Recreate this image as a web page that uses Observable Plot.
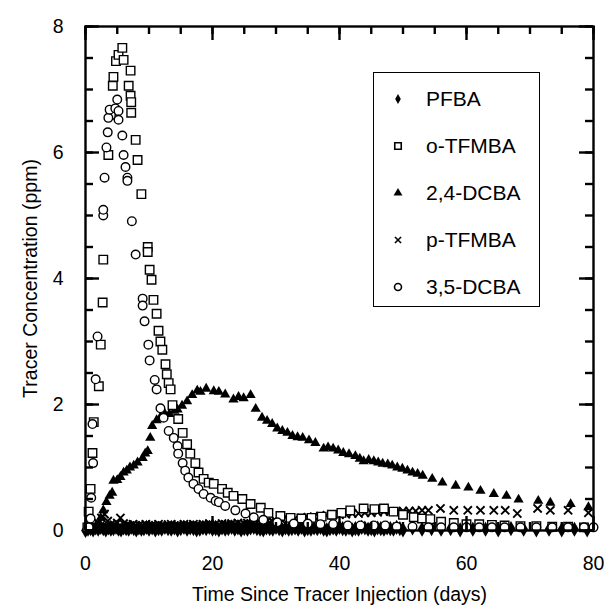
<!DOCTYPE html>
<html><head><meta charset="utf-8">
<script src="https://cdn.jsdelivr.net/npm/d3@7"></script>
<script src="https://cdn.jsdelivr.net/npm/@observablehq/plot@0.6"></script>
<style>
body{margin:0;background:#fff;font-family:"Liberation Sans",Arial,Helvetica,sans-serif;}
#wrap{position:relative;width:607px;height:606px;}
#legend{position:absolute;left:373px;top:72px;width:167px;height:235px;border:1.5px solid #000;box-sizing:border-box;background:#fff;padding-top:2px;}
.row{height:47px;display:flex;align-items:center;font-size:21px;color:#000;}
.row svg{width:48px;height:20px;flex:none;}
.row span{margin-left:4px;}
</style></head><body><div id="wrap"></div>
<script>
// ---- data ----
const seriesNames = ["PFBA", "o-TFMBA", "2,4-DCBA", "p-TFMBA", "3,5-DCBA"];
const xDomain = [0, 80];
const yDomain = [0, 8];
const xTicks = [0, 20, 40, 60, 80];
const xMinorTicks = [0, 5, 10, 15, 20, 25, 30, 35, 40, 45, 50, 55, 60, 65, 70, 75, 80];
const yTicks = [0, 2, 4, 6, 8];
const yMinorTicks = [0, 0.5, 1, 1.5, 2, 2.5, 3, 3.5, 4, 4.5, 5, 5.5, 6, 6.5, 7, 7.5, 8];

const pfbaT = [0,0.4,0.8,1.2,1.6,2,2.4,2.8,3.2,3.6,4,4.4,4.8,5.2,5.6,6,6.4,6.8,7.2,7.6,8,8.4,8.8,9.2,9.6,
  10,10.5,11,11.5,12,12.5,13,13.5,14,14.5,15,15.5,16,16.5,17,17.5,18,18.5,19,19.5,20,20.5,21,21.5,22,22.5,
  23,23.5,24,24.5,25,25.5,26,26.5,27,27.5,28,28.5,29,29.5,30,30.5,31,31.5,32,32.5,33,33.5,34,34.5,35,35.5,
  36,36.5,37,37.5,38,38.5,39,39.5,40,40.5,41,41.5,42,42.5,43,43.5,44,44.5,45,45.5,46,46.5,47,47.5,48,48.5,
  49,49.5,50,51.5,53,54.5,56,57.5,59,61,63,65,67,69,71,73,75,77,79];
const pfbaV = [0.00,0.02,0.03,0.01,0.04,0.02,0.05,0.03,0.01,0.04,
  0.02,0.03,0.05,0.02,0.01,0.04,0.03,0.02,0.05,0.03,
  0.01,0.04,0.02,0.03,0.05,0.02,0.04,0.01,0.03,0.02,
  0.05,0.03,0.02,0.04,0.01,0.03,0.05,0.02,0.04,0.03,
  0.01,0.02,0.04,0.03,0.05,0.02,0.03,0.01,0.04,0.02,
  0.03,0.05,0.02,0.04,0.01,0.03,0.02,0.04,0.05,0.03,
  0.02,0.01,0.04,0.03,0.02,0.05,0.03,0.01,0.04,0.02,
  0.03,0.04,0.02,0.05,0.01,0.03,0.02,0.04,0.03,0.05,
  0.02,0.01,0.03,0.04,0.02,0.05,0.03,0.02,0.04,0.01,
  0.03,0.02,0.05,0.04,0.02,0.03,0.01,0.04,0.03,0.02,
  0.04,0.03,0.02,0.05,0.03,0.01,0.04,0.02,0.03,0.02,
  0.03,0.01,0.02,0.02,0.01,0.03,0.02,0.01,0.02,0.01,
  0.02,0.01];

const otfT = [0.3,0.5,0.8,1.1,1.3,2.1,2.4,2.7,2.8,3.6,4.0,4.3,4.4,4.8,5.2,5.8,6.0,6.8,7.1,7.1,7.2,7.2,7.9,8.2,8.8,
  9.8,9.8,10.1,10.4,10.7,11.2,11.5,11.8,12.1,12.6,12.8,13.1,13.4,13.7,14.6,15.3,16.0,16.5,17.3,17.8,18.6,19.4,
  20.2,21.5,22.4,23.3,24.7,26.0,27.6,28.8,30.7,32.3,34.0,35.6,37.2,38.8,40.3,41.7,43.8,45.5,47.0,48.5,50.0,
  51.7,53.0,54.3,56.0,58.0,60.0,62.0,64.0,66.0,68.5,71.0,73.5,76.0,78.5];
const otfV = [0.05,0.3,0.66,1.23,1.72,2.29,2.95,3.62,4.3,5.96,6.6,7.06,7.2,7.45,7.55,7.66,7.47,7.06,7.3,6.9,6.8,6.63,6.2,5.88,5.34,
  4.5,4.42,4.14,3.98,3.66,3.44,3.17,3.0,2.87,2.64,2.48,2.34,2.24,1.99,1.77,1.55,1.37,1.22,1.07,0.92,0.82,0.76,
  0.74,0.66,0.6,0.55,0.5,0.42,0.36,0.28,0.23,0.2,0.19,0.2,0.22,0.25,0.28,0.32,0.35,0.34,0.35,0.3,0.25,
  0.21,0.19,0.18,0.14,0.12,0.1,0.1,0.09,0.08,0.07,0.07,0.06,0.06,0.05];

const dcba24T = [1.5,2.0,2.4,2.8,3.3,3.8,4.2,4.4,5.0,5.5,6.0,6.5,7.0,7.6,8.2,9.0,9.4,9.8,10.2,10.5,11.2,11.8,12.5,13.2,
  14.0,14.5,15.2,16.0,16.8,17.6,18.1,19.0,20.2,21.0,22.0,23.3,24.1,24.9,26.0,26.8,27.8,28.6,29.4,30.2,31.0,31.8,
  32.6,33.4,34.2,35.2,36.2,37.5,38.2,39.0,39.8,40.6,41.5,42.5,43.2,43.8,44.6,45.4,46.1,46.8,47.6,48.3,49.1,49.9,
  50.7,51.5,52.3,53.1,54.6,56.2,58.3,60.3,62.2,64.3,66.3,68.2,71.3,73.2,76.4,79.2];
const dcba24V = [0.02,0.05,0.2,0.32,0.45,0.55,0.6,0.79,0.8,0.85,0.92,0.95,1.0,1.03,1.08,1.15,1.22,1.26,1.47,1.66,1.75,1.8,1.85,1.85,
  1.9,1.92,1.98,2.05,2.15,2.22,2.2,2.25,2.21,2.2,2.16,2.08,2.12,2.1,2.15,1.93,1.79,1.74,1.69,1.62,1.58,1.55,
  1.5,1.48,1.47,1.43,1.39,1.3,1.32,1.3,1.27,1.23,1.21,1.18,1.14,1.1,1.12,1.1,1.08,1.06,1.05,1.03,1.0,0.98,
  0.95,0.92,0.9,0.87,0.82,0.76,0.71,0.68,0.63,0.58,0.55,0.49,0.47,0.44,0.42,0.37];

const ptfT = [0.5,1,1.5,2,2.5,3,3.5,4,4.5,5,5.5,6,6.5,7,7.5,8,8.5,9,9.5,10,10.5,11,11.5,12,12.5,13,13.5,14,14.5,15,
  15.5,16,16.5,17,17.5,18,18.5,19,19.5,20,20.5,21,21.5,22,22.5,23,23.5,24,24.5,25,25.5,26,26.5,27,27.5,28,28.5,29,29.5,30,
  31,32,33,34,35,36,37,38,39,40,41,42,43,44,45,46,47,48,49,50,51,52,53,54,
  55.9,58,60.2,62.2,64.3,66.1,68,71.2,73.2,76,79.2];
const ptfV = [0.03,0.06,0.08,0.12,0.2,0.26,0.15,0.1,0.09,0.12,0.2,0.11,0.09,0.08,0.1,0.07,0.09,0.08,0.1,0.07,
  0.09,0.08,0.1,0.08,0.07,0.09,0.1,0.08,0.09,0.07,0.1,0.09,0.08,0.1,0.09,0.08,0.1,0.09,0.11,0.08,
  0.1,0.09,0.11,0.1,0.09,0.11,0.1,0.12,0.1,0.11,0.12,0.11,0.12,0.13,0.12,0.13,0.14,0.13,0.14,0.15,
  0.16,0.17,0.19,0.2,0.21,0.22,0.23,0.24,0.25,0.25,0.26,0.27,0.27,0.28,0.28,0.29,0.3,0.3,0.3,0.31,0.31,0.31,0.32,0.32,
  0.35,0.32,0.32,0.32,0.32,0.32,0.27,0.35,0.32,0.32,0.28];

const dcba35T = [0.5,0.8,0.9,1.2,1.1,1.6,1.9,2.8,2.8,3.0,3.3,3.5,3.6,3.8,4.7,5.0,5.2,5.2,5.8,6.0,6.3,6.6,6.6,7.3,7.9,
  9.0,9.0,9.3,9.9,10.1,10.9,11.2,11.8,12.3,13.1,13.9,14.5,14.6,15.3,15.7,16.2,17.0,17.8,18.6,19.7,20.5,21.0,22.0,
  23.6,25.2,26.5,28.0,30.2,32.8,35.0,37.0,39.0,41.3,43.3,45.4,47.2,49.0,51.5,54.0,56.0,58.0,60.0,62.0,64.0,66.0,
  68.5,71.0,73.5,76.0,78.5,80.0];
const dcba35V = [0.05,0.19,0.52,1.07,1.69,2.4,3.08,5.0,5.09,5.6,6.08,6.32,6.55,6.68,6.7,6.84,6.66,6.52,6.27,5.96,5.77,5.6,5.55,4.91,4.38,
  3.68,3.57,3.32,2.95,2.7,2.39,2.24,1.94,1.79,1.58,1.47,1.34,1.22,1.07,0.95,0.84,0.74,0.66,0.58,0.52,0.47,0.45,0.39,
  0.32,0.27,0.21,0.17,0.13,0.11,0.11,0.1,0.1,0.08,0.08,0.08,0.08,0.06,0.06,0.05,0.05,0.05,0.05,0.05,0.05,0.05,
  0.05,0.05,0.05,0.05,0.05,0.05];

// ---- build ----
const toRows = (T, V) => d3.zip(T, V).map(([t, v]) => ({t, v}));
const pfba = toRows(pfbaT, pfbaV);
const otf = toRows(otfT, otfV);
const dcba24 = toRows(dcba24T, dcba24V);
const ptf = toRows(ptfT, ptfV);
const dcba35 = toRows(dcba35T, dcba35V);

const W = 607, H = 606, ML = 85, MR = 14, MT = 26, MB = 76;
const innerW = W - ML - MR, innerH = H - MT - MB;
// tick lengths in pixels, converted to data units (ticks point inward on all four sides)
const SHORT = 8, LONG = 14;
const ySpan = yDomain[1] - yDomain[0], xSpan = xDomain[1] - xDomain[0];
const yLen = (px) => px * ySpan / innerH;
const xLen = (px) => px * xSpan / innerW;
const tk = {stroke: "#000", strokeWidth: 2.4};
const fmt = (d) => String(d);
const [x0, x1] = xDomain, [y0, y1] = yDomain;

const chart = Plot.plot({
  width: W, height: H,
  marginLeft: ML, marginRight: MR, marginTop: MT, marginBottom: MB,
  style: {fontFamily: "'Liberation Sans', Arial, Helvetica, sans-serif", fontSize: "19.5px", color: "#000", background: "#fff"},
  x: {domain: xDomain},
  y: {domain: yDomain},
  marks: [
    Plot.dot(pfba, {x: "t", y: "v", symbol: "diamond", r: 4.6, fill: "#000", stroke: "none"}),
    Plot.dot(ptf, {x: "t", y: "v", symbol: "times", r: 3.8, stroke: "#000", strokeWidth: 1.9}),
    Plot.dot(dcba24, {x: "t", y: "v", symbol: "triangle", r: 3.8, fill: "#000", stroke: "none"}),
    Plot.dot(otf, {x: "t", y: "v", symbol: "square", r: 4.8, fill: "#fff", stroke: "#000", strokeWidth: 1.4}),
    Plot.dot(dcba35, {x: "t", y: "v", symbol: "circle", r: 4.3, fill: "#fff", stroke: "#000", strokeWidth: 1.4}),
    Plot.ruleX(xMinorTicks, {x: (d) => d, y1: y0, y2: y0 + yLen(SHORT), ...tk}),
    Plot.ruleX(xMinorTicks, {x: (d) => d, y1: y1 - yLen(SHORT), y2: y1, ...tk}),
    Plot.ruleX(xTicks, {x: (d) => d, y1: y0, y2: y0 + yLen(LONG), ...tk}),
    Plot.ruleX(xTicks, {x: (d) => d, y1: y1 - yLen(LONG), y2: y1, ...tk}),
    Plot.ruleY(yMinorTicks, {y: (d) => d, x1: x0, x2: x0 + xLen(SHORT), ...tk}),
    Plot.ruleY(yMinorTicks, {y: (d) => d, x1: x1 - xLen(SHORT), x2: x1, ...tk}),
    Plot.ruleY(yTicks, {y: (d) => d, x1: x0, x2: x0 + xLen(LONG), ...tk}),
    Plot.ruleY(yTicks, {y: (d) => d, x1: x1 - xLen(LONG), x2: x1, ...tk}),
    Plot.frame({stroke: "#000", strokeWidth: 2.4}),
    // tick labels and titles
    Plot.axisX(xTicks, {anchor: "bottom", tickSize: 0, tickPadding: 26, tickFormat: fmt,
      label: "Time Since Tracer Injection (days)", labelAnchor: "center", labelArrow: "none", labelOffset: 70}),
    Plot.axisY(yTicks, {anchor: "left", tickSize: 0, tickPadding: 22, tickFormat: fmt,
      label: "Tracer Concentration (ppm)", labelAnchor: "center", labelArrow: "none", labelOffset: 62})
  ]
});

const wrap = document.getElementById("wrap");
wrap.appendChild(chart);

// legend
const legendSymbols = [
  {type: d3.symbolDiamond, size: 28, fill: "#000", stroke: "none"},
  {type: d3.symbolSquare, size: 42, fill: "#fff", stroke: "#000"},
  {type: d3.symbolTriangle, size: 34, fill: "#000", stroke: "none"},
  {type: d3.symbolTimes, size: 26, fill: "none", stroke: "#000"},
  {type: d3.symbolCircle, size: 38, fill: "#fff", stroke: "#000"}
];
const legend = document.createElement("div");
legend.id = "legend";
seriesNames.forEach((name, i) => {
  const s = legendSymbols[i];
  const row = document.createElement("div");
  row.className = "row";
  const path = d3.symbol().type(s.type).size(s.size)();
  row.innerHTML = `<svg viewBox="-24 -10 48 20"><path d="${path}" fill="${s.fill}" stroke="${s.stroke}" stroke-width="1.6"/></svg><span></span>`;
  row.querySelector("span").textContent = name;
  legend.appendChild(row);
});
wrap.appendChild(legend);
</script></body></html>
